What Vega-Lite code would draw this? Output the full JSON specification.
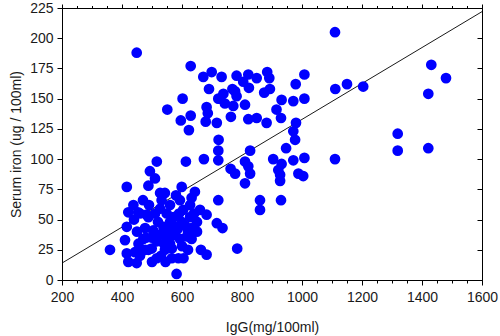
{
  "$schema": "https://vega.github.io/schema/vega-lite/v6.json",
  "width": 420,
  "height": 272,
  "autosize": {"type": "none"},
  "padding": {"left": 62, "top": 8, "right": 18, "bottom": 56},
  "background": "#ffffff",
  "config": {
    "view": {"stroke": "#000000", "strokeWidth": 1},
    "font": "Liberation Sans"
  },
  "datasets": {
    "points": [
      {"IgG": 449, "iron": 188}, {"IgG": 629, "iron": 177}, {"IgG": 671, "iron": 168}, {"IgG": 699, "iron": 172},
      {"IgG": 732, "iron": 168}, {"IgG": 782, "iron": 169}, {"IgG": 821, "iron": 170}, {"IgG": 849, "iron": 167},
      {"IgG": 884, "iron": 172}, {"IgG": 891, "iron": 167}, {"IgG": 1008, "iron": 170}, {"IgG": 979, "iron": 162},
      {"IgG": 804, "iron": 164}, {"IgG": 690, "iron": 158}, {"IgG": 768, "iron": 158}, {"IgG": 823, "iron": 159},
      {"IgG": 874, "iron": 155}, {"IgG": 893, "iron": 158}, {"IgG": 738, "iron": 154}, {"IgG": 777, "iron": 156},
      {"IgG": 727, "iron": 150}, {"IgG": 782, "iron": 152}, {"IgG": 721, "iron": 150}, {"IgG": 743, "iron": 146},
      {"IgG": 771, "iron": 144}, {"IgG": 810, "iron": 145}, {"IgG": 602, "iron": 150}, {"IgG": 551, "iron": 141},
      {"IgG": 682, "iron": 143}, {"IgG": 686, "iron": 138}, {"IgG": 629, "iron": 136}, {"IgG": 596, "iron": 132},
      {"IgG": 679, "iron": 131}, {"IgG": 716, "iron": 130}, {"IgG": 763, "iron": 135}, {"IgG": 821, "iron": 133},
      {"IgG": 849, "iron": 134}, {"IgG": 882, "iron": 130}, {"IgG": 915, "iron": 141}, {"IgG": 930, "iron": 134},
      {"IgG": 980, "iron": 130}, {"IgG": 971, "iron": 123}, {"IgG": 977, "iron": 116}, {"IgG": 947, "iron": 109},
      {"IgG": 623, "iron": 124}, {"IgG": 722, "iron": 116}, {"IgG": 721, "iron": 107}, {"IgG": 827, "iron": 107},
      {"IgG": 1110, "iron": 205}, {"IgG": 1111, "iron": 158}, {"IgG": 1150, "iron": 162}, {"IgG": 1204, "iron": 160},
      {"IgG": 1431, "iron": 178}, {"IgG": 1480, "iron": 167}, {"IgG": 1421, "iron": 154}, {"IgG": 932, "iron": 149},
      {"IgG": 971, "iron": 148}, {"IgG": 1008, "iron": 150}, {"IgG": 1319, "iron": 121}, {"IgG": 1319, "iron": 107},
      {"IgG": 1421, "iron": 109}, {"IgG": 1110, "iron": 100}, {"IgG": 721, "iron": 99}, {"IgG": 904, "iron": 100},
      {"IgG": 673, "iron": 100}, {"IgG": 613, "iron": 98}, {"IgG": 516, "iron": 98}, {"IgG": 493, "iron": 90},
      {"IgG": 510, "iron": 84}, {"IgG": 416, "iron": 77}, {"IgG": 488, "iron": 78}, {"IgG": 527, "iron": 72},
      {"IgG": 543, "iron": 72}, {"IgG": 599, "iron": 77}, {"IgG": 643, "iron": 73}, {"IgG": 632, "iron": 68},
      {"IgG": 721, "iron": 66}, {"IgG": 860, "iron": 66}, {"IgG": 860, "iron": 58}, {"IgG": 921, "iron": 91},
      {"IgG": 932, "iron": 96}, {"IgG": 971, "iron": 99}, {"IgG": 1008, "iron": 101}, {"IgG": 927, "iron": 87},
      {"IgG": 927, "iron": 82}, {"IgG": 988, "iron": 88}, {"IgG": 1004, "iron": 86}, {"IgG": 930, "iron": 66},
      {"IgG": 810, "iron": 98}, {"IgG": 821, "iron": 94}, {"IgG": 827, "iron": 88}, {"IgG": 810, "iron": 80},
      {"IgG": 762, "iron": 92}, {"IgG": 777, "iron": 88}, {"IgG": 438, "iron": 62}, {"IgG": 421, "iron": 56},
      {"IgG": 454, "iron": 56}, {"IgG": 482, "iron": 54}, {"IgG": 460, "iron": 55}, {"IgG": 488, "iron": 52},
      {"IgG": 416, "iron": 44}, {"IgG": 410, "iron": 33}, {"IgG": 360, "iron": 25}, {"IgG": 416, "iron": 22},
      {"IgG": 421, "iron": 15}, {"IgG": 449, "iron": 14}, {"IgG": 443, "iron": 23}, {"IgG": 582, "iron": 5},
      {"IgG": 566, "iron": 18}, {"IgG": 588, "iron": 18}, {"IgG": 516, "iron": 18}, {"IgG": 466, "iron": 25},
      {"IgG": 488, "iron": 25}, {"IgG": 477, "iron": 25}, {"IgG": 499, "iron": 26}, {"IgG": 663, "iron": 25},
      {"IgG": 682, "iron": 21}, {"IgG": 784, "iron": 26}, {"IgG": 716, "iron": 47}, {"IgG": 735, "iron": 43},
      {"IgG": 682, "iron": 54}, {"IgG": 660, "iron": 58}, {"IgG": 471, "iron": 34}, {"IgG": 516, "iron": 32},
      {"IgG": 549, "iron": 34}, {"IgG": 571, "iron": 37}, {"IgG": 593, "iron": 34}, {"IgG": 616, "iron": 36},
      {"IgG": 632, "iron": 43}, {"IgG": 599, "iron": 48}, {"IgG": 627, "iron": 52}, {"IgG": 571, "iron": 45},
      {"IgG": 538, "iron": 44}, {"IgG": 504, "iron": 41}, {"IgG": 477, "iron": 43}, {"IgG": 549, "iron": 55},
      {"IgG": 527, "iron": 59}, {"IgG": 532, "iron": 66}, {"IgG": 571, "iron": 52}, {"IgG": 604, "iron": 58},
      {"IgG": 627, "iron": 62}, {"IgG": 593, "iron": 66}, {"IgG": 566, "iron": 26}, {"IgG": 543, "iron": 25},
      {"IgG": 632, "iron": 34}, {"IgG": 520, "iron": 48}, {"IgG": 555, "iron": 40}, {"IgG": 585, "iron": 42},
      {"IgG": 610, "iron": 45}, {"IgG": 540, "iron": 30}, {"IgG": 500, "iron": 35}, {"IgG": 450, "iron": 40},
      {"IgG": 530, "iron": 20}, {"IgG": 600, "iron": 28}, {"IgG": 620, "iron": 25}, {"IgG": 490, "iron": 62},
      {"IgG": 560, "iron": 62}, {"IgG": 580, "iron": 70}, {"IgG": 470, "iron": 66}, {"IgG": 650, "iron": 40},
      {"IgG": 640, "iron": 55}, {"IgG": 605, "iron": 18}, {"IgG": 455, "iron": 30}, {"IgG": 440, "iron": 50},
      {"IgG": 510, "iron": 55}, {"IgG": 560, "iron": 48}, {"IgG": 590, "iron": 55}, {"IgG": 620, "iron": 40},
      {"IgG": 480, "iron": 35}, {"IgG": 530, "iron": 38}, {"IgG": 560, "iron": 30}, {"IgG": 650, "iron": 48},
      {"IgG": 460, "iron": 20}, {"IgG": 500, "iron": 15}, {"IgG": 545, "iron": 15}
    ],
    "fit": [
      {"IgG": 200, "iron": 14},
      {"IgG": 1600, "iron": 222}
    ]
  },
  "layer": [
    {
      "data": {"name": "fit"},
      "mark": {"type": "line", "color": "#000000", "strokeWidth": 0.9},
      "encoding": {
        "x": {
          "field": "IgG", "type": "quantitative",
          "scale": {"domain": [200, 1600], "nice": false, "zero": false},
          "axis": {
            "orient": "top", "title": null, "labels": false, "grid": false,
            "values": [200, 250, 300, 350, 400, 450, 500, 550, 600, 650, 700, 750, 800, 850, 900, 950, 1000, 1050, 1100, 1150, 1200, 1250, 1300, 1350, 1400, 1450, 1500, 1550, 1600],
            "tickSize": {"condition": {"test": "datum.value % 200 === 0", "value": 4}, "value": 2.5},
            "tickColor": "#000000", "domainColor": "#000000"
          }
        },
        "y": {
          "field": "iron", "type": "quantitative",
          "scale": {"domain": [0, 225], "nice": false, "zero": true},
          "axis": {
            "orient": "right", "title": null, "labels": false, "grid": false,
            "values": [0, 25, 50, 75, 100, 125, 150, 175, 200, 225],
            "tickSize": -5, "tickColor": "#000000", "domainColor": "#000000"
          }
        }
      }
    },
    {
      "data": {"name": "points"},
      "mark": {"type": "circle", "size": 115, "color": "#0000ff", "opacity": 1},
      "encoding": {
        "x": {
          "field": "IgG", "type": "quantitative",
          "scale": {"domain": [200, 1600], "nice": false, "zero": false},
          "axis": {
            "orient": "bottom", "title": "IgG(mg/100ml)", "grid": false,
            "values": [200, 250, 300, 350, 400, 450, 500, 550, 600, 650, 700, 750, 800, 850, 900, 950, 1000, 1050, 1100, 1150, 1200, 1250, 1300, 1350, 1400, 1450, 1500, 1550, 1600],
            "labelExpr": "datum.value % 200 === 0 ? datum.label : ''",
            "format": "d",
            "tickSize": {"condition": {"test": "datum.value % 200 === 0", "value": 5}, "value": 3},
            "labelFlush": false, "labelOverlap": false,
            "labelFont": "Liberation Sans", "labelFontSize": 14, "labelColor": "#1a1a1a", "labelPadding": 5,
            "titleFont": "Liberation Sans", "titleFontSize": 14, "titleFontWeight": "normal", "titleColor": "#1a1a1a", "titlePadding": 16,
            "tickColor": "#000000", "domainColor": "#000000"
          }
        },
        "y": {
          "field": "iron", "type": "quantitative",
          "scale": {"domain": [0, 225], "nice": false, "zero": true},
          "axis": {
            "orient": "left", "title": "Serum iron (ug / 100ml)", "grid": false,
            "values": [0, 25, 50, 75, 100, 125, 150, 175, 200, 225],
            "tickSize": 5, "labelFlush": false, "labelOverlap": false,
            "labelFont": "Liberation Sans", "labelFontSize": 14, "labelColor": "#1a1a1a", "labelPadding": 4,
            "titleFont": "Liberation Sans", "titleFontSize": 14, "titleFontWeight": "normal", "titleColor": "#1a1a1a", "titlePadding": 6,
            "tickColor": "#000000", "domainColor": "#000000"
          }
        }
      }
    }
  ],
  "resolve": {"axis": {"x": "independent", "y": "independent"}}
}
